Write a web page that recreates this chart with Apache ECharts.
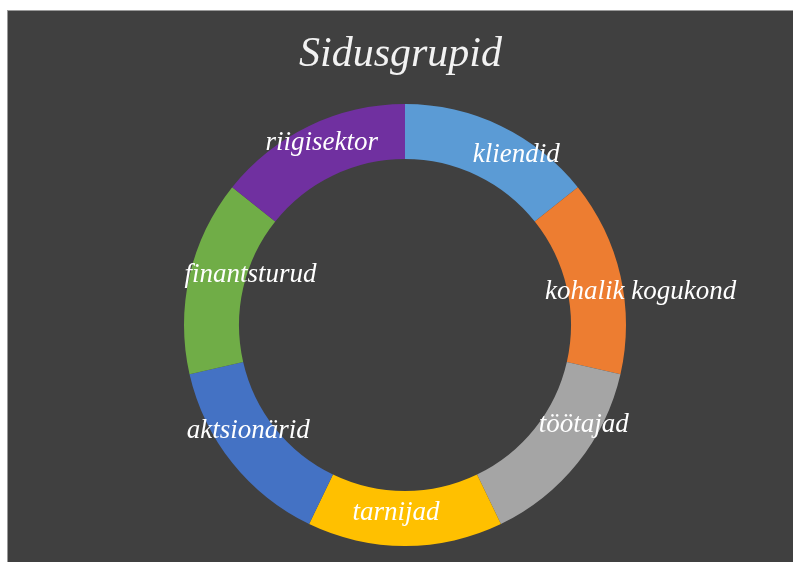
<!DOCTYPE html>
<html>
<head>
<meta charset="utf-8">
<script src="https://cdn.jsdelivr.net/npm/echarts@6/dist/echarts.min.js"></script>
<style>
  html, body { margin: 0; padding: 0; background: #fff; }
  #chart { position: absolute; left: 7px; top: 10px; width: 786px; height: 552px; background: #404040; border-left: 1px solid #9a9a9a; border-top: 1px solid #9a9a9a; box-sizing: border-box; }
</style>
</head>
<body>
<div id="chart"></div>
<script>
  // sidusgrupid, kellaosuti suunas alates ülevalt
  const groups = ['kliendid', 'kohalik kogukond', 'töötajad', 'tarnijad', 'aktsionärid', 'finantsturud', 'riigisektor']
  const shares = [1, 1, 1, 1, 1, 1, 1]
  const colors = ['#5b9bd5', '#ed7d31', '#a5a5a5', '#ffc000', '#4472c4', '#70ad47', '#7030a0']

  // label nudges, as the labels sit in the original
  const labelShift = [[26, 7], [44, 11], [25, -23], [-9, -9], [-3, -17], [37, -6], [2, -5]]

  const font = '"Liberation Serif", "DejaVu Serif", serif'

  let chart = echarts.init(document.getElementById('chart'))

  chart.setOption({
    backgroundColor: '#404040',
    title: {
      text: 'Sidusgrupid',
      left: 'center',
      top: 18,
      textStyle: {
        color: '#f2f2f2',
        fontFamily: font,
        fontStyle: 'italic',
        fontWeight: 'normal',
        fontSize: 42
      }
    },
    series: [
      {
        type: 'pie',
        center: [397, 314],
        radius: [166, 221],
        startAngle: 90,
        clockwise: true,
        silent: true,
        label: {
          show: true,
          position: 'inside',
          color: '#ffffff',
          fontFamily: font,
          fontStyle: 'italic',
          fontSize: 27
        },
        labelLine: { show: false },
        data: groups.map(function (name, i) {
          return {
            name: name,
            value: shares[i],
            itemStyle: { color: colors[i] },
            label: { offset: labelShift[i] }
          }
        })
      }
    ]
  })
</script>
</body>
</html>
